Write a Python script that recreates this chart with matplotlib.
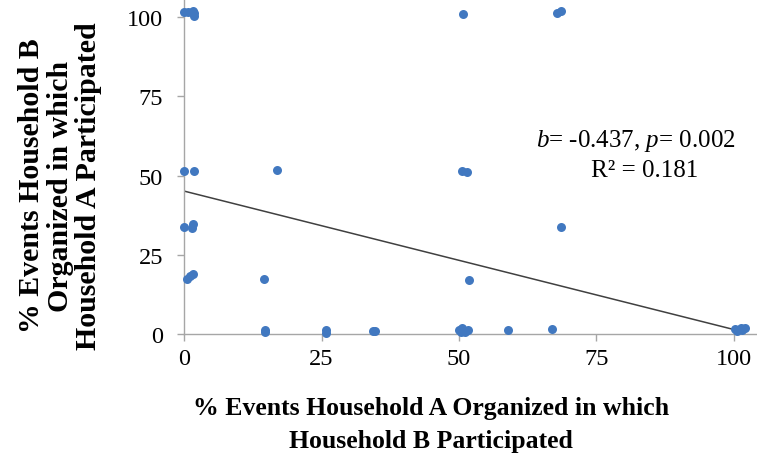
import numpy as np
import matplotlib.pyplot as plt

plt.rcParams['font.family'] = ['Liberation Serif', 'DejaVu Serif']
plt.rcParams['mathtext.fontset'] = 'custom'
plt.rcParams['mathtext.rm'] = 'Liberation Serif'
plt.rcParams['mathtext.it'] = 'Liberation Serif:italic'

# % events A organized in which B participated (x) vs B organized in which A participated (y)
x_vals = [0, 0.7, 1.6, 1.9, 1.9, 50.7, 67.8, 68.6,
          0, 1.8, 16.9, 50.5, 51.5,
          0, 1.4, 1.7, 68.5,
          0.5, 1.0, 1.7, 14.5, 51.8,
          14.7, 14.7, 25.8, 25.8, 34.3, 34.8, 50.0, 50.5, 51.0, 51.6, 50.3,
          58.9, 66.9, 100.2, 100.6, 101.2, 102.0, 101.5]
y_vals = [101.5, 101.5, 101.8, 101.3, 100.3, 101.0, 101.2, 102.0,
          51.5, 51.5, 51.7, 51.3, 51.0,
          33.7, 33.4, 34.7, 33.8,
          17.4, 18.3, 18.9, 17.4, 17.0,
          0.6, 1.2, 1.3, 0.4, 0.9, 0.9, 1.2, 1.8, 0.5, 1.3, 0.6,
          1.3, 1.6, 1.5, 1.0, 1.8, 1.9, 1.2]

slope = -0.437
intercept = 45.1
ticks = [0, 25, 50, 75, 100]

fig = plt.figure(figsize=(7.57, 4.64), dpi=100)
ax = fig.add_axes([0.2431, 0.278, 0.757, 0.722])

ax.scatter(x_vals, y_vals, s=42, color='#4178C0', zorder=3, clip_on=False, linewidths=0)
xs = np.array([0, 102])
ax.plot(xs, intercept + slope * xs, color='#404040', lw=1.1, zorder=2)

ax.set_xlim(0, 104.2)
ax.set_ylim(0, 105.7)
ax.set_xticks(ticks)
ax.set_yticks(ticks)
for s in ['top', 'right']:
    ax.spines[s].set_visible(False)
for s in ['left', 'bottom']:
    ax.spines[s].set_color('#a6a6a6')
    ax.spines[s].set_linewidth(1.0)
ax.tick_params(colors='#a6a6a6', length=5, width=1.0, labelcolor='black', labelsize=17.5)
ax.tick_params(axis='x', pad=5)
ax.tick_params(axis='y', pad=10)

fig.text(431 / 757, 1 - 425 / 464, '% Events Household A Organized in which\nHousehold B Participated',
         ha='center', va='center', fontsize=18.5, fontweight='bold', linespacing=1.6)
fig.text(60 / 757, 1 - 186 / 464, '% Events Household B\nOrganized in which\nHousehold A Participated',
         ha='center', va='center', rotation=90, fontsize=21.5, fontweight='bold', linespacing=1.06)

fig.text(636 / 757, 1 - 141 / 464, r'$b$= -0.437, $p$= 0.002',
         ha='center', va='center', fontsize=18)
fig.text(645 / 757, 1 - 171 / 464, 'R² = 0.181', ha='center', va='center', fontsize=18)

fig.savefig('out.png', dpi=100)
